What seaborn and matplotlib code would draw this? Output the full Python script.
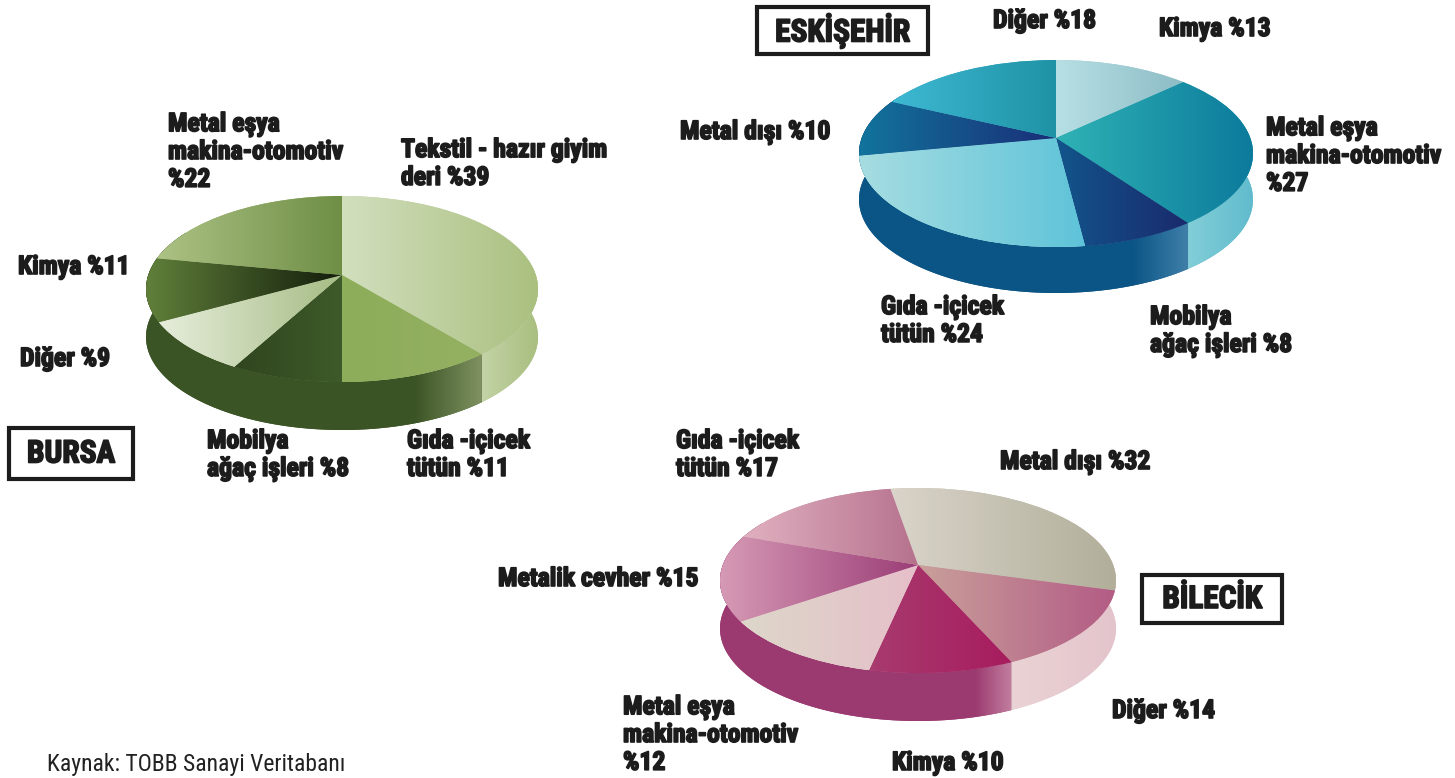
import numpy as np
import seaborn as sns
import matplotlib.pyplot as plt
import matplotlib.patheffects as pe
from matplotlib import font_manager
from matplotlib.patches import PathPatch, Rectangle
from matplotlib.path import Path
from matplotlib.transforms import Transform

# slice shares, clockwise from the start angle
bursa_values = [39, 11, 8, 9, 11, 22]
eskisehir_values = [13, 27, 8, 24, 10, 18]
bilecik_values = [32, 14, 10, 12, 15, 17]

bursa_labels = ["Tekstil - hazır giyim\nderi %39", "Gıda -içicek\ntütün %11", "Mobilya\nağaç işleri %8",
                "Diğer %9", "Kimya %11", "Metal eşya\nmakina-otomotiv\n%22"]
eskisehir_labels = ["Kimya %13", "Metal eşya\nmakina-otomotiv\n%27", "Mobilya\nağaç işleri %8",
                    "Gıda -içicek\ntütün %24", "Metal dışı %10", "Diğer %18"]
bilecik_labels = ["Metal dışı %32", "Diğer %14", "Kimya %10", "Metal eşya\nmakina-otomotiv\n%12",
                  "Metalik cevher %15", "Gıda -içicek\ntütün %17"]

W, H = 1455, 778

# a condensed face is closest to the original lettering, sizes drop if it is not there
installed = {f.name for f in font_manager.fontManager.ttflist}
if "Roboto Condensed" in installed:
    FONT = ["Roboto Condensed", "DejaVu Sans"]
    LABEL_SIZE, TITLE_SIZE, SOURCE_SIZE = 18.5, 22.5, 17
else:
    FONT = ["Liberation Sans", "DejaVu Sans"]
    LABEL_SIZE, TITLE_SIZE, SOURCE_SIZE = 16, 18.5, 14.7

# layout of each pie: apex, half width, perspective, thickness, gradients
pies = [
    dict(values=bursa_values, labels=bursa_labels, title="BURSA", start=90,
         apex=(342, 275), rx=196, above=79, below=107, depth=48, split=1,
         title_box=(9, 428, 124, 51),
         label_pos=[(401, 164), (407, 455), (207, 455), (20, 359), (18, 267), (168, 152)],
         top=[("#d2dfbe", "#aac07f"), ("#8dad5a", "#94b162"), ("#30451e", "#3e5a2a"),
              ("#e6eddb", "#a6bc84"), ("#60803a", "#131d0b"), ("#adc285", "#6e8e45")],
         side_light=("#c3d3a6", "#a8be7e"), side_dark=["#3b5425"] * 5 + ["#7f9160"]),
    dict(values=eskisehir_values, labels=eskisehir_labels, title="ESKİŞEHİR", start=90,
         apex=(1056, 138), rx=197, above=78, below=109, depth=46, split=2,
         title_box=(757, 7, 171, 47),
         label_pos=[(1159, 29), (1266, 156), (1150, 331), (881, 321), (680, 132), (993, 21)],
         top=[("#b7e0e5", "#8dbcc5"), ("#2fb3b5", "#0c7a9c"), ("#12558c", "#1a2a6c"),
              ("#a6dde1", "#5ec3d9"), ("#11749c", "#1a2e78"), ("#3eb9d3", "#1f92a5")],
         side_light=("#82ced8", "#60bbcd"), side_dark=["#0b5586"] * 6 + ["#3f7fa9"]),
    dict(values=bilecik_values, labels=bilecik_labels, title="BİLECİK", start=99.5,
         apex=(918, 565), rx=198, above=77, below=108, depth=48, split=2,
         title_box=(1142, 575, 140, 48),
         label_pos=[(1000, 462), (1112, 711), (892, 763), (623, 735), (498, 579), (676, 455)],
         top=[("#dad4ca", "#b1af9a"), ("#c9a09a", "#b35c85"), ("#a73b6f", "#a81c5e"),
              ("#ddd7ca", "#e6bfc9"), ("#d69ab5", "#9b3d77"), ("#e0b0c0", "#b6728d")],
         side_light=("#ead3d4", "#e4c4cc"), side_dark=["#9b3a70"] * 8 + ["#c27e9f"]),
]


class TiltedDisc(Transform):
    """Projects the unit disc of a pie onto a tilted plane, in pixel coordinates."""
    input_dims = output_dims = 2

    def __init__(self, apex, rx, above, below, drop=0):
        super().__init__()
        self.apex = apex
        self.drop = drop
        self.k = (below - above) / (below + above)
        self.a = above * (1 + self.k)
        self.b = rx * np.sqrt(1 - self.k ** 2)

    def transform_non_affine(self, xy):
        xy = np.asarray(xy, dtype=float)
        d = 1 + self.k * xy[:, 1]
        return np.column_stack([self.apex[0] + self.b * xy[:, 0] / d,
                                self.apex[1] - self.a * xy[:, 1] / d + self.drop])


def fill_gradient(ax, patch, extents, colors, zorder):
    # horizontal colour ramp clipped to the shape, with the plain patch underneath for smooth edges
    cmap = sns.blend_palette(colors, as_cmap=True)
    patch.set_facecolor(cmap(0.5))
    patch.set_edgecolor("none")
    patch.set_zorder(zorder)
    ramp = np.linspace(0, 1, 256).reshape(1, -1)
    im = ax.imshow(ramp, cmap=cmap, vmin=0, vmax=1, aspect="auto", zorder=zorder + 0.1,
                   extent=(extents.x0, extents.x1, extents.y1, extents.y0))
    im.set_clip_path(patch)


def draw_side(ax, disc, lower, from_angle, to_angle, colors):
    thetas = np.radians(np.linspace(from_angle, to_angle, 120))
    rim = np.column_stack([np.sin(thetas), np.cos(thetas)])
    verts = np.vstack([disc.transform(rim), lower.transform(rim)[::-1]])
    patch = PathPatch(Path(np.vstack([verts, verts[:1]]), closed=True))
    ax.add_patch(patch)
    fill_gradient(ax, patch, patch.get_path().get_extents(), colors, 1)


def draw_pie(ax, spec):
    disc = TiltedDisc(spec["apex"], spec["rx"], spec["above"], spec["below"])
    lower = TiltedDisc(spec["apex"], spec["rx"], spec["above"], spec["below"], drop=spec["depth"])

    # the rim, light under the first slices and dark under the rest
    shares = np.cumsum(spec["values"]) / np.sum(spec["values"])
    split_angle = (90 - spec["start"]) + 360 * shares[spec["split"] - 1]
    draw_side(ax, disc, lower, 60, split_angle, spec["side_light"])
    draw_side(ax, disc, lower, split_angle, 300, spec["side_dark"])

    wedges, _ = ax.pie(spec["values"], startangle=spec["start"], counterclock=False, radius=1,
                       wedgeprops=dict(linewidth=0))
    for wedge, colors in zip(wedges, spec["top"]):
        wedge.set_transform(disc + ax.transData)
        extents = disc.transform_path(wedge.get_path()).get_extents()
        fill_gradient(ax, wedge, extents, colors, 2)

    for label, (x, y) in zip(spec["labels"], spec["label_pos"]):
        ax.text(x, y, label, ha="left", va="center", fontsize=LABEL_SIZE, fontweight="bold", family=FONT,
                color="#1c1c1c", linespacing=1.2, zorder=5,
                path_effects=[pe.withStroke(linewidth=1.2, foreground="#1c1c1c")])

    x, y, w, h = spec["title_box"]
    ax.add_patch(Rectangle((x, y), w, h, fc="white", ec="#1c1c1c", lw=3, zorder=5))
    ax.text(x + w / 2, y + h / 2, spec["title"], ha="center", va="center", fontsize=TITLE_SIZE, fontweight="bold",
            family=FONT, color="#1c1c1c", zorder=6,
            path_effects=[pe.withStroke(linewidth=1.2, foreground="#1c1c1c")])


sns.set_theme(style="white")
fig = plt.figure(figsize=(W / 100, H / 100), dpi=100, facecolor="white")
ax = fig.add_axes([0, 0, 1, 1])

for spec in pies:
    draw_pie(ax, spec)

ax.text(47, 765, "Kaynak: TOBB Sanayi Veritabanı", ha="left", va="center", fontsize=SOURCE_SIZE, family=FONT,
        color="#222222", zorder=5)

ax.set_aspect("auto")
ax.set_xlim(0, W)
ax.set_ylim(H, 0)
ax.set_axis_off()
fig.savefig("out.png", dpi=100)
